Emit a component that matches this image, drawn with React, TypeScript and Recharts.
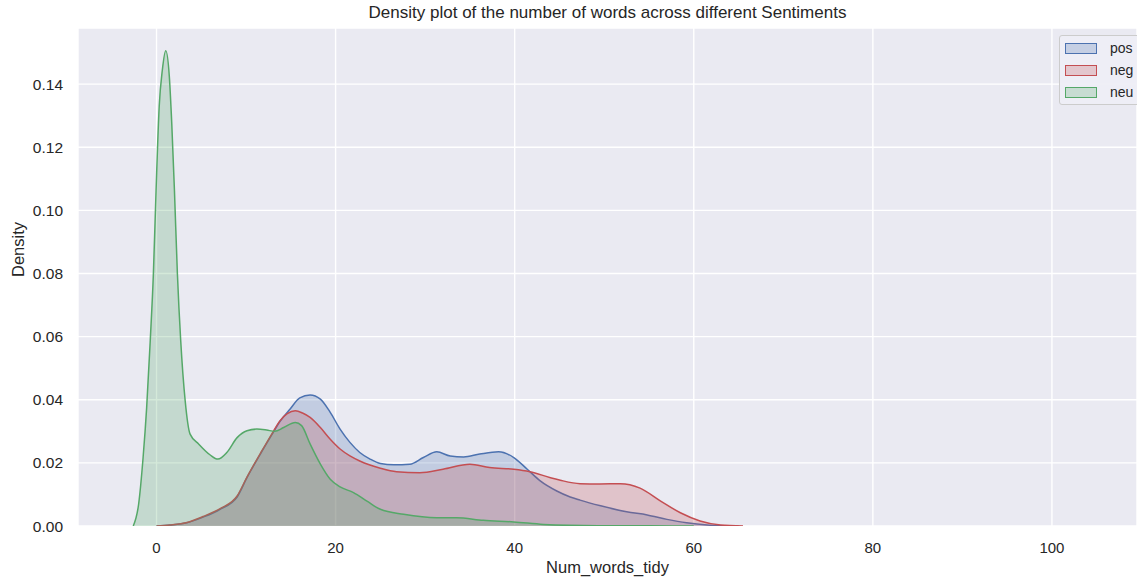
import React from 'react'
import { AreaChart, Area, XAxis, YAxis, CartesianGrid, Legend } from 'recharts'

// KDE curves (x = number of words, y = density)
const posX = [0, 1.5, 3.4, 5.2, 7.1, 9.0, 10.1, 11.6, 12.9, 13.8, 14.9, 16.0, 17.15, 18.3, 19.4, 20.5, 21.6, 22.7, 23.85, 25.0, 26.5, 28.3, 29.8, 31.3, 32.8, 34.3, 36.1, 38.2, 39.9, 41.4, 42.85, 44.7, 46.2, 47.3, 49.6, 52.5, 54.8, 57, 59.2, 61.5, 63, 65]
const posY = [0, 0.0003, 0.001, 0.0028, 0.0053, 0.0092, 0.0153, 0.0228, 0.029, 0.0332, 0.037, 0.0406, 0.0415, 0.0402, 0.036, 0.0307, 0.0265, 0.0233, 0.0212, 0.0198, 0.0194, 0.0196, 0.0217, 0.0235, 0.0222, 0.0219, 0.0228, 0.0235, 0.0217, 0.018, 0.0143, 0.0111, 0.0092, 0.0082, 0.0064, 0.0045, 0.0035, 0.0021, 0.001, 0.0003, 0.0001, 0]

const negX = [0, 1.5, 3.4, 5.2, 7.1, 9.0, 10.1, 11.6, 12.9, 13.8, 14.6, 15.5, 16.3, 17.15, 18.3, 19.4, 20.5, 21.6, 22.7, 25.0, 26.8, 29.4, 32.0, 35.0, 37.2, 39.9, 41.7, 44.0, 45.1, 47.3, 49.5, 51.8, 54.0, 56.3, 58.5, 60.7, 63, 65.5]
const negY = [0, 0.0003, 0.0011, 0.003, 0.0055, 0.0095, 0.0155, 0.023, 0.0293, 0.0334, 0.0356, 0.0365, 0.0358, 0.0344, 0.0312, 0.0275, 0.0244, 0.0222, 0.0206, 0.0183, 0.0172, 0.0169, 0.018, 0.0196, 0.0185, 0.018, 0.0172, 0.0153, 0.0145, 0.0134, 0.0133, 0.0134, 0.012, 0.0079, 0.0042, 0.0016, 0.0003, 0]

const neuX = [-2.6, -2.0, -1.5, -1.1, -0.7, -0.35, -0.05, 0.3, 0.65, 1.03, 1.43, 1.7, 2.0, 2.33, 2.7, 3.2, 3.75, 4.7, 6.0, 6.85, 7.85, 9.0, 10.1, 11.2, 12.3, 13.2, 14.2, 15.5, 16.2, 17.15, 18.3, 19.4, 20.5, 22.0, 23.5, 25.0, 27.6, 31.3, 33.5, 36.5, 39.9, 43.2, 46, 50, 55, 60]
const neuY = [0, 0.0069, 0.0217, 0.0376, 0.0588, 0.08, 0.1064, 0.133, 0.1445, 0.1506, 0.1424, 0.1276, 0.1064, 0.08, 0.0588, 0.0397, 0.0291, 0.026, 0.0225, 0.0212, 0.0233, 0.028, 0.0302, 0.0307, 0.0304, 0.03, 0.0312, 0.0328, 0.0318, 0.026, 0.0196, 0.0148, 0.0124, 0.0106, 0.0079, 0.0053, 0.0037, 0.0026, 0.0026, 0.0018, 0.0013, 0.0005, 0.0002, 0.0001, 0.00005, 0]

const xTicks = [0, 20, 40, 60, 80, 100]
const yTicks = [0, 0.02, 0.04, 0.06, 0.08, 0.1, 0.12, 0.14]

const series = [
  { name: 'pos', xs: posX, ys: posY, color: '#4C72B0' },
  { name: 'neg', xs: negX, ys: negY, color: '#C44E52' },
  { name: 'neu', xs: neuX, ys: neuY, color: '#55A868' },
]

const toRows = (xs: number[], ys: number[]) => xs.map((x, i) => ({ x, y: ys[i] }))

const FONT = '"Liberation Sans", Arial, sans-serif'
const TEXT = '#262626'

function LegendBox() {
  return (
    <div
      style={{
        background: 'rgba(238,238,245,0.95)',
        border: '1px solid #cccccc',
        borderRadius: 3,
        padding: '1px 0 1px 5px',
        fontFamily: FONT,
        fontSize: 14,
        color: TEXT,
      }}
    >
      {series.map((s) => (
        <div key={s.name} style={{ display: 'flex', alignItems: 'center', height: 22 }}>
          <span
            style={{
              display: 'inline-block',
              width: 30,
              height: 9,
              background: s.color + '40',
              border: `1px solid ${s.color}`,
              marginRight: 13,
            }}
          />
          <span>{s.name}</span>
        </div>
      ))}
    </div>
  )
}

export default function App() {
  return (
    <div style={{ position: 'absolute', left: 0, top: 0, width: 1137, height: 579, background: '#fff' }}>
      <div
        style={{
          position: 'absolute', top: 3, left: 78, width: 1059, textAlign: 'center',
          fontFamily: FONT, fontSize: 17, color: TEXT,
        }}
      >
        Density plot of the number of words across different Sentiments
      </div>
      <AreaChart width={1137} height={579} margin={{ top: 28, right: 0, left: 0, bottom: 23 }}>
        <CartesianGrid fill="#EAEAF2" stroke="#ffffff" strokeWidth={1.4} />
        <XAxis
          dataKey="x"
          type="number"
          domain={[-8.77, 109.5]}
          ticks={xTicks}
          allowDataOverflow
          height={30}
          tickLine={false}
          axisLine={false}
          tickSize={0}
          tickMargin={16}
          tick={{ fontSize: 15, fill: TEXT, fontFamily: FONT }}
          label={{ value: 'Num_words_tidy', position: 'insideBottom', offset: -17, fontSize: 16.5, fill: TEXT, fontFamily: FONT }}
        />
        <YAxis
          dataKey="y"
          type="number"
          domain={[0, 0.1578]}
          ticks={yTicks}
          allowDataOverflow
          width={78}
          tickLine={false}
          axisLine={false}
          tickSize={0}
          tickMargin={15}
          tickFormatter={(v: number) => v.toFixed(2)}
          tick={{ fontSize: 15.5, fill: TEXT, fontFamily: FONT }}
          label={{ value: 'Density', angle: -90, position: 'insideLeft', offset: 18, fontSize: 16.5, fill: TEXT, fontFamily: FONT }}
        />
        {series.map((s) => (
          <Area
            key={s.name}
            data={toRows(s.xs, s.ys)}
            dataKey="y"
            name={s.name}
            type="monotone"
            stroke={s.color}
            strokeWidth={1.5}
            fill={s.color}
            fillOpacity={0.25}
            dot={false}
            activeDot={false}
            isAnimationActive={false}
          />
        ))}
        <Legend
          layout="vertical"
          align="center"
          verticalAlign="middle"
          content={() => <LegendBox />}
          wrapperStyle={{ position: 'absolute', top: 35, left: 1059, width: 90 }}
        />
      </AreaChart>
    </div>
  )
}
